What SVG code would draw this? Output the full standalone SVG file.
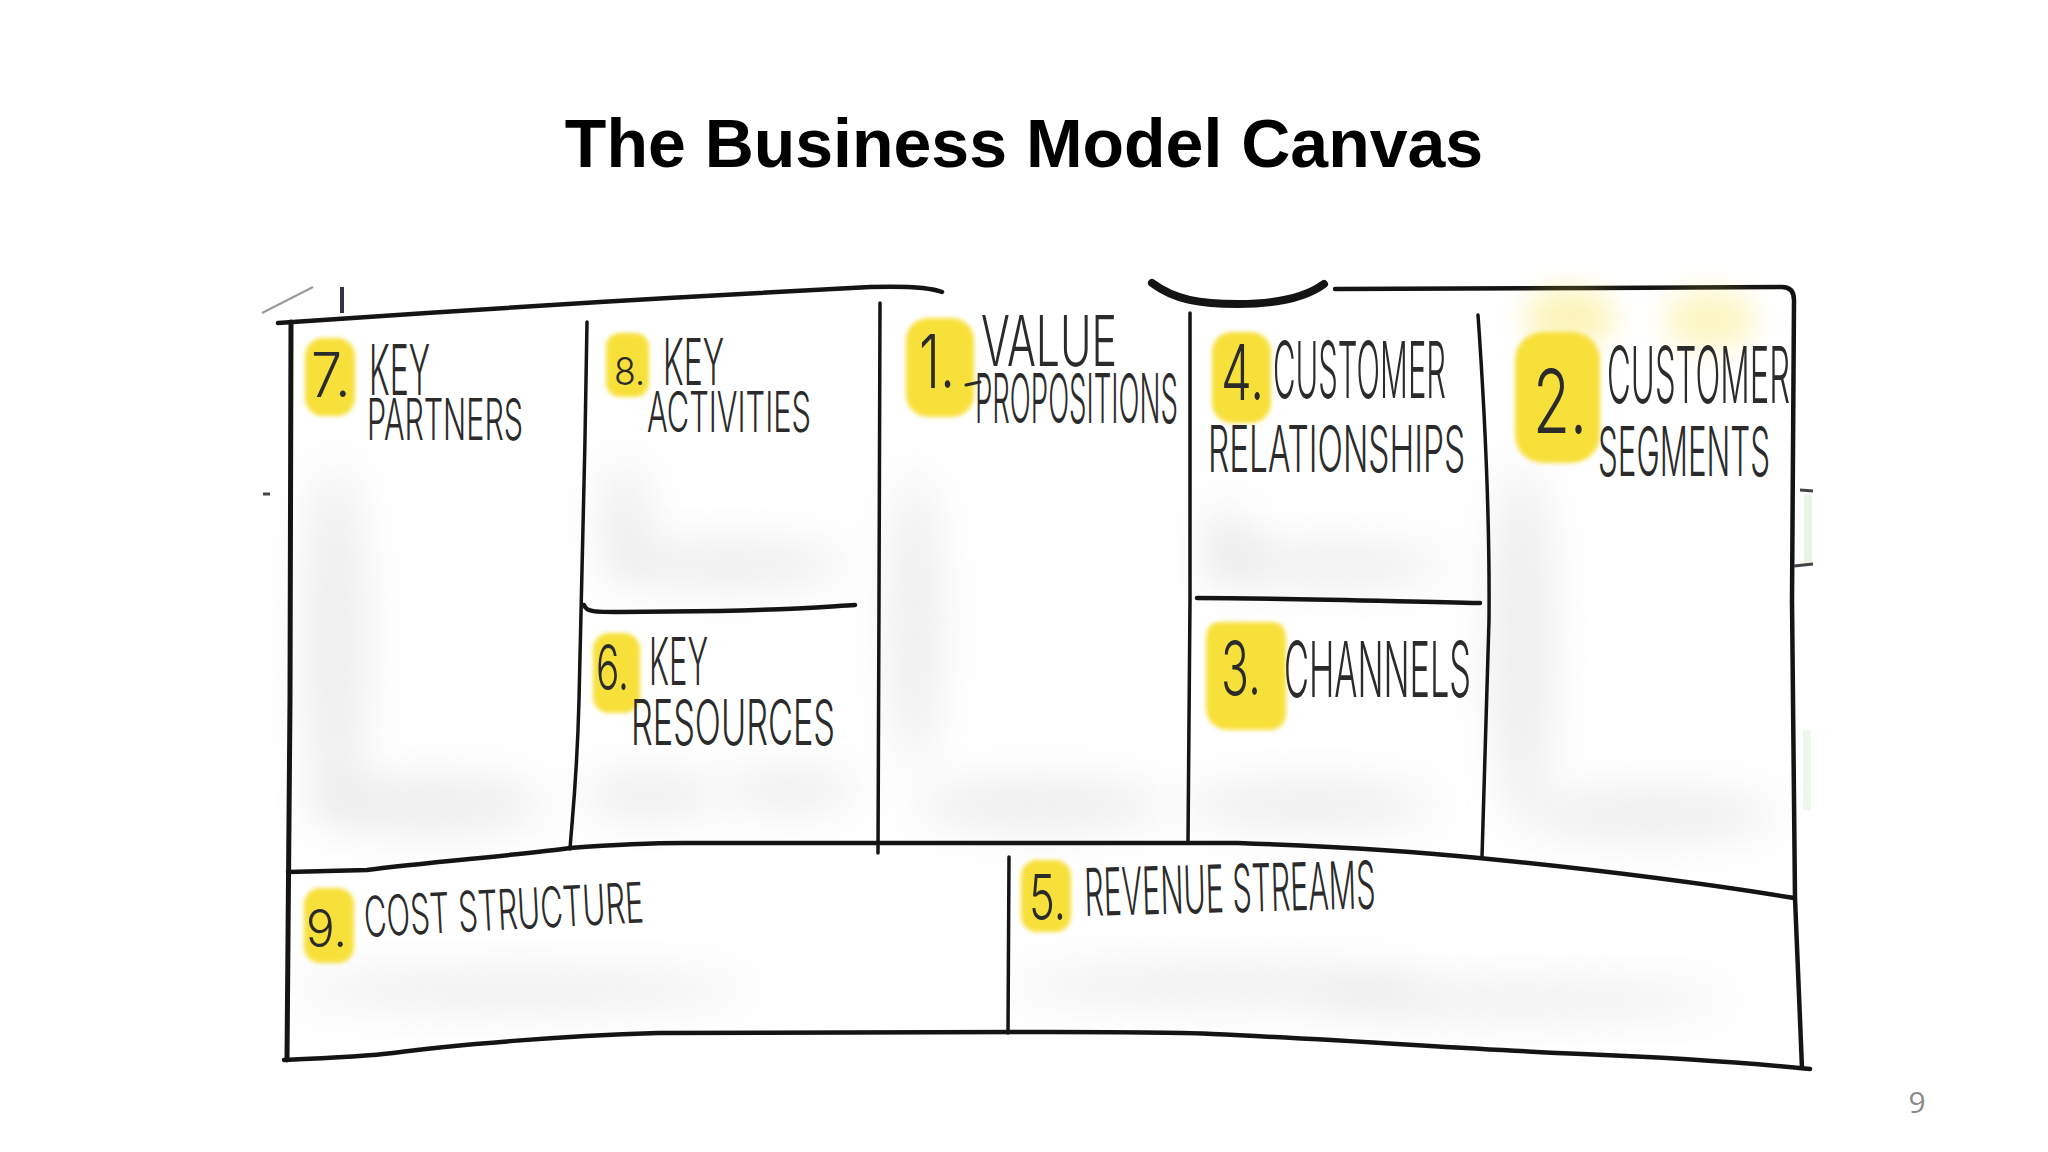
<svg xmlns="http://www.w3.org/2000/svg" width="2048" height="1152" viewBox="0 0 2048 1152">
  <defs>
    <filter id="haze" x="-60%" y="-60%" width="220%" height="220%">
      <feGaussianBlur stdDeviation="22"/>
    </filter>
    <filter id="soft" x="-30%" y="-30%" width="160%" height="160%">
      <feGaussianBlur stdDeviation="2.2"/>
    </filter>
    <filter id="glow" x="-50%" y="-50%" width="200%" height="200%">
      <feGaussianBlur stdDeviation="14"/>
    </filter>
  </defs>
  <style>
    .title { font-family: "Liberation Sans", Arial, sans-serif; font-weight: bold; font-size: 68px; fill: #000; }
    .hand { font-family: Inter, Roboto, "Liberation Sans", sans-serif; font-weight: 300; fill: #2b2b2b; }
    .hl { fill: #f8e03a; filter: url(#soft); }
    .hz { fill: #d4d4d4; opacity: 0.38; filter: url(#haze); }
    .ln { fill: none; stroke: #141414; stroke-width: 4.5; stroke-linecap: round; stroke-linejoin: round; }
    .thin { fill: none; stroke: #141414; stroke-width: 3.5; stroke-linecap: round; }
    .pg { font-family: "Open Sans", "Liberation Sans", sans-serif; font-size: 30px; fill: #8a8a8a; }
  </style>

  <rect width="2048" height="1152" fill="#ffffff"/>

  <text class="title" x="1024" y="167" text-anchor="middle">The Business Model Canvas</text>

  <!-- soft background haze -->
  <g id="haze-layer">
    <ellipse class="hz" cx="335" cy="640" rx="34" ry="180"/>
    <ellipse class="hz" cx="430" cy="805" rx="120" ry="32"/>
    <ellipse class="hz" cx="625" cy="520" rx="26" ry="60"/>
    <ellipse class="hz" cx="730" cy="565" rx="120" ry="26"/>
    <ellipse class="hz" cx="650" cy="795" rx="70" ry="26"/>
    <ellipse class="hz" cx="790" cy="790" rx="70" ry="24"/>
    <ellipse class="hz" cx="915" cy="620" rx="28" ry="150"/>
    <ellipse class="hz" cx="1040" cy="805" rx="130" ry="28"/>
    <ellipse class="hz" cx="1228" cy="545" rx="28" ry="40"/>
    <ellipse class="hz" cx="1330" cy="565" rx="120" ry="24"/>
    <ellipse class="hz" cx="1310" cy="805" rx="130" ry="26"/>
    <ellipse class="hz" cx="1522" cy="640" rx="34" ry="180"/>
    <ellipse class="hz" cx="1650" cy="815" rx="130" ry="28"/>
    <ellipse class="hz" cx="520" cy="990" rx="230" ry="22"/>
    <ellipse class="hz" cx="1220" cy="985" rx="210" ry="22"/>
    <ellipse class="hz" cx="1520" cy="1000" rx="210" ry="20"/>
  </g>

  <!-- connectors / grid lines -->
  <g id="grid">
    <path class="ln" d="M278,323 C380,316 500,308 600,302 C700,296 820,289 870,287 C905,286 930,287 942,292"/>
    <path class="ln" style="stroke-width:8" d="M1152,283 C1175,300 1200,304 1238,304 C1278,304 1305,298 1324,284"/>
    <path class="ln" d="M1335,289 L1600,288 L1782,287 Q1794,287 1794,300 L1792,600 L1795,898 L1802,1068"/>
    <path class="ln" style="stroke-width:5" d="M291,322 L290,700 L287,1060"/>
    <path class="ln" d="M284,1060 C330,1058 370,1056 393,1053 C450,1045 560,1036 658,1033 L1050,1032 C1120,1032 1180,1032 1212,1034 C1350,1040 1480,1050 1582,1054 C1680,1058 1760,1064 1810,1069"/>
    <path class="ln" d="M288,872 L367,870 C430,862 520,855 570,848 C610,845 650,843 684,843 L1238,843 C1320,846 1420,852 1479,858 C1600,870 1720,886 1794,898"/>
    <path class="thin" d="M587,322 C585,450 582,600 579,700 C577,780 572,820 570,849"/>
    <path class="thin" d="M880,303 L879,600 L878,853"/>
    <path class="thin" d="M1190,313 L1190,600 L1188,843"/>
    <path class="thin" d="M1478,315 C1484,400 1490,500 1489,620 L1482,857"/>
    <path class="thin" d="M1009,857 L1008,1033"/>
    <path class="ln" d="M584,605 C586,612 595,612 620,612 L720,611 C780,610 820,607 855,605"/>
    <path class="ln" d="M1197,598 C1280,598 1380,601 1480,603"/>
    <path fill="none" stroke="#9a9a9a" stroke-width="2" d="M262,313 L313,287"/>
    <path fill="none" stroke="#333344" stroke-width="4" d="M342,287 L342,313"/>
    <path fill="none" stroke="#444" stroke-width="3" d="M263,494 L270,494"/>
    <rect x="1804" y="494" width="8" height="70" fill="#e9f6e4"/>
    <rect x="1803" y="730" width="8" height="80" fill="#eef8ea"/>
    <path fill="none" stroke="#444" stroke-width="3" d="M1800,490 L1813,491"/>
    <path fill="none" stroke="#444" stroke-width="3" d="M1794,566 L1813,564"/>
  </g>

  <g id="key-partners">
    <rect class="hl" x="305" y="338" width="50" height="78" rx="18"/>
    <text class="hand" transform="translate(311,397) scale(0.78,1)" font-size="62" textLength="51" lengthAdjust="spacingAndGlyphs">7.</text>
    <text class="hand" transform="translate(369,395) scale(0.445,1)" font-size="70" textLength="137" lengthAdjust="spacingAndGlyphs">KEY</text>
    <text class="hand" transform="translate(367,440) scale(0.5,1)" font-size="58" textLength="312" lengthAdjust="spacingAndGlyphs">PARTNERS</text>
  </g>

  <g id="key-activities">
    <rect class="hl" x="606" y="333" width="43" height="64" rx="14"/>
    <text class="hand" transform="translate(614,385) scale(0.97,1)" font-size="38" textLength="32" lengthAdjust="spacingAndGlyphs">8.</text>
    <text class="hand" transform="translate(663,385) scale(0.49,1)" font-size="64" textLength="124.5" lengthAdjust="spacingAndGlyphs">KEY</text>
    <text class="hand" transform="translate(647,432) scale(0.53,1)" font-size="56" textLength="309.4" lengthAdjust="spacingAndGlyphs">ACTIVITIES</text>
  </g>

  <g id="key-resources">
    <rect class="hl" x="593" y="633" width="47" height="80" rx="16"/>
    <text class="hand" transform="translate(596,690) scale(0.63,1)" font-size="63" textLength="52.4" lengthAdjust="spacingAndGlyphs">6.</text>
    <text class="hand" transform="translate(649,685) scale(0.46,1)" font-size="66" textLength="128.3" lengthAdjust="spacingAndGlyphs">KEY</text>
    <text class="hand" transform="translate(631,745) scale(0.53,1)" font-size="63" textLength="384.9" lengthAdjust="spacingAndGlyphs">RESOURCES</text>
  </g>

  <g id="value-propositions">
    <rect class="hl" x="906" y="318" width="68" height="99" rx="22"/>
    <path fill="none" stroke="#2b2b2b" stroke-width="3" stroke-linecap="round" d="M966,385 L980,382"/>
    <text class="hand" transform="translate(919,388) scale(0.59,1)" font-size="74" textLength="61" lengthAdjust="spacingAndGlyphs">1.</text>
    <text class="hand" transform="translate(981,366) scale(0.58,1)" font-size="70" textLength="234.5" lengthAdjust="spacingAndGlyphs">VALUE</text>
    <text class="hand" transform="translate(975,423) scale(0.39,1)" font-size="68" textLength="520.5" lengthAdjust="spacingAndGlyphs">PROPOSITIONS</text>
  </g>

  <g id="customer-relationships">
    <rect class="hl" x="1212" y="332" width="59" height="91" rx="20"/>
    <text class="hand" transform="translate(1221,400) scale(0.67,1)" font-size="77" textLength="64.2" lengthAdjust="spacingAndGlyphs">4.</text>
    <text class="hand" transform="translate(1273,398) scale(0.39,1)" font-size="78" textLength="443.6" lengthAdjust="spacingAndGlyphs">CUSTOMER</text>
    <text class="hand" transform="translate(1208,472) scale(0.49,1)" font-size="65" textLength="524.5" lengthAdjust="spacingAndGlyphs">RELATIONSHIPS</text>
  </g>

  <g id="channels">
    <path class="hl" d="M1220,622 L1272,622 Q1286,622 1286,640 L1286,712 Q1286,730 1268,730 L1232,730 Q1206,730 1206,706 L1206,640 Q1206,622 1220,622 Z"/>
    <text class="hand" transform="translate(1221,695) scale(0.65,1)" font-size="74" textLength="61.5" lengthAdjust="spacingAndGlyphs">3.</text>
    <text class="hand" transform="translate(1284,697) scale(0.44,1)" font-size="77" textLength="425" lengthAdjust="spacingAndGlyphs">CHANNELS</text>
  </g>

  <g id="customer-segments">
    <ellipse cx="1570" cy="318" rx="45" ry="30" fill="#f8e03a" opacity="0.35" filter="url(#glow)"/>
    <ellipse cx="1710" cy="320" rx="45" ry="30" fill="#f8e03a" opacity="0.3" filter="url(#glow)"/>
    <rect class="hl" x="1515" y="332" width="85" height="131" rx="28"/>
    <text class="hand" transform="translate(1533,433) scale(0.74,1)" font-size="88" textLength="73" lengthAdjust="spacingAndGlyphs">2.</text>
    <text class="hand" transform="translate(1607,403) scale(0.41,1)" font-size="78" textLength="446.3" lengthAdjust="spacingAndGlyphs">CUSTOMER</text>
    <text class="hand" transform="translate(1598,476) scale(0.45,1)" font-size="68" textLength="382.2" lengthAdjust="spacingAndGlyphs">SEGMENTS</text>
  </g>

  <g id="cost-structure">
    <rect class="hl" x="304" y="888" width="50" height="75" rx="16"/>
    <text class="hand" transform="translate(306,947) scale(0.95,1)" font-size="52" textLength="43.2" lengthAdjust="spacingAndGlyphs">9.</text>
    <text class="hand" transform="translate(365,937) rotate(-3) scale(0.54,1)" font-size="56" textLength="518.5" lengthAdjust="spacingAndGlyphs">COST STRUCTURE</text>
  </g>

  <g id="revenue-streams">
    <rect class="hl" x="1021" y="860" width="50" height="72" rx="16"/>
    <text class="hand" transform="translate(1029,920) scale(0.71,1)" font-size="63" textLength="52.1" lengthAdjust="spacingAndGlyphs">5.</text>
    <text class="hand" transform="translate(1085,916) rotate(-1.5) scale(0.43,1)" font-size="66" textLength="676.7" lengthAdjust="spacingAndGlyphs">REVENUE STREAMS</text>
  </g>

  <text class="pg" x="1917" y="1113" text-anchor="middle">9</text>
</svg>
